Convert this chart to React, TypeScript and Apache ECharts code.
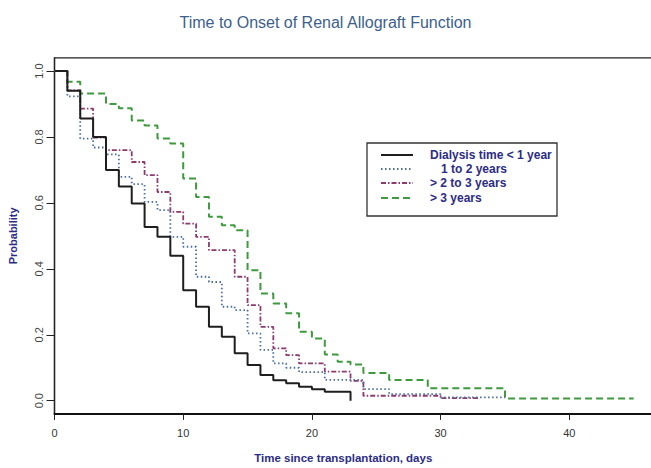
import React, { useEffect, useRef } from "react";
import * as echarts from "echarts";

const title = "Time to Onset of Renal Allograft Function";
const xAxisTitle = "Time since transplantation, days";
const yAxisTitle = "Probability";
const xTicks = [0, 10, 20, 30, 40];
const yTicks = [0, 0.2, 0.4, 0.6, 0.8, 1.0];

const seriesNames = ["Dialysis time < 1 year", "1 to 2 years", "> 2 to 3 years", "> 3 years"];

const lt1Days = [0, 1, 2, 3, 4, 5, 6, 7, 8, 9, 10, 11, 12, 13, 14, 15, 16, 17, 18, 19, 20, 21, 23];
const lt1Prob = [1.0, 0.94, 0.856, 0.8, 0.7, 0.65, 0.598, 0.527, 0.497, 0.44, 0.335, 0.285, 0.224, 0.194, 0.144, 0.108, 0.078, 0.062, 0.053, 0.042, 0.035, 0.027, 0.0];

const y1to2Days = [0, 1, 2, 3, 4, 5, 6, 7, 8, 9, 10, 11, 12, 13, 14, 15, 16, 17, 18, 19, 21, 24, 26, 30, 35];
const y1to2Prob = [1.0, 0.923, 0.795, 0.768, 0.747, 0.679, 0.657, 0.603, 0.578, 0.497, 0.467, 0.376, 0.36, 0.285, 0.275, 0.204, 0.154, 0.113, 0.1, 0.087, 0.063, 0.035, 0.02, 0.01, 0.01];

const y2to3Days = [0, 1, 2, 3, 4, 6, 7, 8, 9, 10, 11, 12, 14, 15, 16, 17, 18, 19, 21, 23, 24, 30, 33];
const y2to3Prob = [1.0, 0.941, 0.886, 0.798, 0.76, 0.724, 0.684, 0.633, 0.573, 0.537, 0.497, 0.457, 0.376, 0.29, 0.224, 0.159, 0.138, 0.113, 0.088, 0.06, 0.015, 0.008, 0.008];

const gt3Days = [0, 1, 2, 4, 5, 6, 7, 8, 9, 10, 11, 12, 13, 14, 15, 16, 17, 18, 19, 20, 21, 22, 23, 24, 26, 29, 35, 45];
const gt3Prob = [1.0, 0.967, 0.932, 0.9, 0.887, 0.85, 0.835, 0.795, 0.78, 0.674, 0.618, 0.558, 0.532, 0.517, 0.396, 0.325, 0.295, 0.265, 0.209, 0.189, 0.14, 0.118, 0.11, 0.084, 0.063, 0.038, 0.007, 0.007];

const colors = ["#1e1e1e", "#4a6d9c", "#8c3b6e", "#3f9a3f"];
const dashes: (number[] | "solid")[] = ["solid", [1.5, 2.5], [5, 2, 1.5, 2], [7, 4]];
const widths = [2, 1.8, 1.8, 2];

const labelFont = "'Liberation Sans Narrow', 'Liberation Sans', Arial, sans-serif";
const navy = "#2c2c84";

function pairs(d: number[], p: number[]) {
  return d.map((x, i) => [x, p[i]]);
}

export default function App() {
  const ref = useRef<HTMLDivElement>(null);
  useEffect(() => {
    if (!ref.current) return;
    const chart = echarts.init(ref.current, null, { renderer: "svg" });
    const data = [
      pairs(lt1Days, lt1Prob),
      pairs(y1to2Days, y1to2Prob),
      pairs(y2to3Days, y2to3Prob),
      pairs(gt3Days, gt3Prob),
    ];
    const order = [3, 2, 1, 0];
    const legendRows = [155, 169, 183, 198];
    const legendTextX = [430, 441, 430, 430];
    const graphic: any[] = [
      {
        type: "rect",
        shape: { x: 367, y: 143, width: 190, height: 73 },
        style: { fill: "#fff", stroke: "#333", lineWidth: 1.3 },
        z: 10,
      },
    ];
    seriesNames.forEach((n, i) => {
      graphic.push({
        type: "line",
        shape: { x1: 381, y1: legendRows[i], x2: 413, y2: legendRows[i] },
        style: {
          stroke: colors[i],
          lineWidth: widths[i],
          lineDash: dashes[i] === "solid" ? null : dashes[i],
        },
        z: 11,
      });
      graphic.push({
        type: "text",
        x: legendTextX[i],
        y: legendRows[i],
        style: {
          text: n,
          fill: navy,
          font: `bold 12px ${labelFont}`,
          textVerticalAlign: "middle",
        },
        z: 11,
      });
    });

    chart.setOption({
      animation: false,
      backgroundColor: "#ffffff",
      title: {
        text: title,
        left: "center",
        top: 9,
        textStyle: {
          fontSize: 16,
          fontWeight: "normal",
          color: "#3d5f8c",
          fontFamily: "'Liberation Sans', Arial, sans-serif",
        },
      },
      grid: {
        left: 54.5,
        right: -2,
        top: 57.8,
        bottom: 54.1,
        show: true,
        borderColor: "#222",
        borderWidth: 1.3,
        containLabel: false,
        outerBoundsMode: "none",
      },
      xAxis: {
        type: "value",
        min: 0,
        max: 46.5,
        name: xAxisTitle,
        nameLocation: "middle",
        nameGap: 38,
        nameTextStyle: {
          color: navy,
          fontFamily: labelFont,
          fontWeight: "bold",
          fontSize: 11.5,
          padding: [0, 21, 0, 0],
        },
        axisLine: { show: true, onZero: false, lineStyle: { color: "#111", width: 2 } },
        axisTick: { show: true, length: 6, customValues: xTicks, lineStyle: { color: "#222" } },
        axisLabel: {
          customValues: xTicks,
          color: "#333",
          fontSize: 11,
          margin: 14,
          fontFamily: "'Liberation Sans', Arial, sans-serif",
        },
        splitLine: { show: false },
      },
      yAxis: {
        type: "value",
        min: -0.04,
        max: 1.04,
        name: yAxisTitle,
        nameLocation: "middle",
        nameGap: 36,
        nameRotate: 90,
        nameTextStyle: {
          color: navy,
          fontFamily: labelFont,
          fontWeight: "bold",
          fontSize: 11,
        },
        axisLine: { show: true, onZero: false, lineStyle: { color: "#222", width: 1.3 } },
        axisTick: { show: true, length: 8, customValues: yTicks, lineStyle: { color: "#222" } },
        axisLabel: {
          customValues: yTicks,
          rotate: 90,
          color: "#444",
          fontSize: 11,
          margin: 10,
          fontFamily: "'Liberation Sans', Arial, sans-serif",
          formatter: (v: number) => v.toFixed(1),
        },
        splitLine: { show: false },
      },
      series: order.map((i) => ({
        name: seriesNames[i],
        type: "line",
        step: "end",
        symbol: "none",
        data: data[i],
        lineStyle: { color: colors[i], width: widths[i], type: dashes[i] },
        z: 2 + (3 - i),
      })),
      graphic,
    });
    return () => chart.dispose();
  }, []);
  return (
    <div
      ref={ref}
      style={{ position: "absolute", left: 0, top: 0, width: 651, height: 468 }}
    />
  );
}
